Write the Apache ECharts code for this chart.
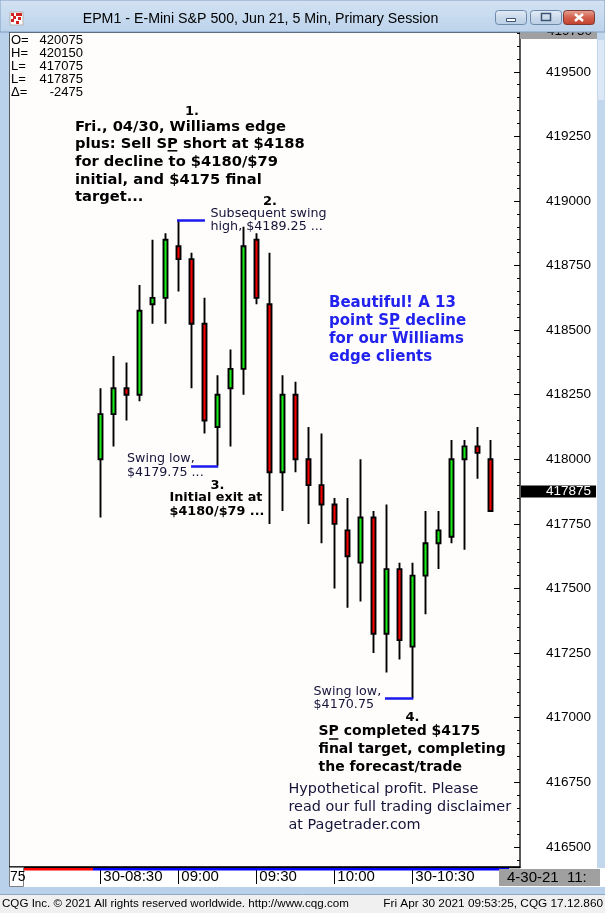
<!DOCTYPE html>
<html><head><meta charset="utf-8">
<script src="https://cdn.jsdelivr.net/npm/echarts@6/dist/echarts.min.js"></script>
<style>html,body{margin:0;padding:0;background:#fff}#c{width:605px;height:913px}</style>
</head><body><div id="c"></div>
<script>
// ---- data ----
const times = ['08:30','08:35','08:40','08:45','08:50','08:55','09:00','09:05','09:10','09:15','09:20','09:25',
  '09:30','09:35','09:40','09:45','09:50','09:55','10:00','10:05','10:10','10:15','10:20','10:25',
  '10:30','10:35','10:40','10:45','10:50','10:55','11:00'];
const opens  = [418000,418175,418275,418250,418600,418625,418825,418775,418525,418125,418275,418350,
  418850,418600,417950,418250,418000,417900,417825,417725,417600,417775,417325,417575,
  417275,417550,417675,417700,418000,418050,418000];
const highs  = [418275,418400,418375,418675,418850,418875,418925,418800,418625,418325,418425,418900,
  418875,418800,418325,418300,418125,418100,417850,417850,418000,417800,417825,417600,
  417600,417800,417800,418075,418075,418125,418075];
const lows   = [417775,418050,418150,418225,418525,418525,418650,418275,418100,417975,418050,418250,
  418600,417750,417800,417950,417750,417675,417500,417425,417450,417250,417175,417225,
  417075,417400,417575,417675,417650,417925,417800];
const closes = [418175,418275,418250,418575,418625,418850,418775,418525,418150,418250,418350,418825,
  418625,417950,418250,418000,417900,417825,417750,417625,417775,417325,417575,417300,
  417550,417675,417725,418000,418050,418025,417800];
const yTickLabels = [416500,416750,417000,417250,417500,417750,418000,418250,418500,418750,419000,419250,419500];
const xTickTimes  = ['08:30','09:00','09:30','10:00','10:30'];
const xTickLabels = ['30-08:30','09:00','09:30','10:00','30-10:30'];
const lastPrice = 417875;
const swingHigh = 418925, swingLow1 = 417975, swingLow2 = 417075;
const headerLabels = ['O=','H=','L=','L=','\u0394='];
const headerValues = ['420075','420150','417075','417875','-2475'];

// ---- layout ----
const X0 = 100.3, STEP = 13;
const GL = 9, GR = 520, GT = 32, GB = 867;
const xMin = (GL - X0) / STEP, xMax = (GR - X0) / STEP;
const yMin = 416422, yMax = 419654;

const xTickPos = xTickTimes.map(t => times.indexOf(t));
const minorTicks = [];
for (let v = 416450; v <= 419650; v += 50) minorTicks.push(v);
const candleData = times.map((t, i) => [i, opens[i], closes[i], lows[i], highs[i]]);

const AF = "'DejaVu Sans', Verdana, sans-serif";
const LF = '"Liberation Sans", Arial, sans-serif';
const fontMain = 'bold 14.7px ' + AF;
const fontDone = 'bold 14px ' + AF;
const fontBlue = 'bold 15px ' + AF;
const fontNorm = '12.7px ' + AF;
const fontHyp = '14.4px ' + AF;

const cv = document.createElement('canvas').getContext('2d');
function tw(font, s) { cv.font = font; return cv.measureText(s).width; }

const gfx = [];
function txt(x, y, text, font, fill, extra, z) {
  gfx.push({type:'text', x, y, z: z == null ? 60 : z, style: Object.assign({text, font, fill, verticalAlign:'top', align:'left'}, extra || {})});
}
function rect(x, y, w, h, fill, z, stroke) {
  gfx.push({type:'rect', z: z == null ? 50 : z, shape:{x, y, width:w, height:h}, style:{fill, stroke: stroke || null, lineWidth: 1}});
}
function line(x1, y1, x2, y2, stroke, w, z) {
  gfx.push({type:'line', z: z == null ? 60 : z, shape:{x1, y1, x2, y2}, style:{stroke, lineWidth: w}});
}
function underline(x, y, font, prefix, word, color) {
  const a = x + tw(font, prefix), b = a + tw(font, word);
  line(a + 0.5, y, b - 0.5, y, color, 1.5, 61);
}

// window frame
rect(0, 32, 9, 862, '#b9d1ea', 40);
rect(597, 32, 8, 836, '#c3d7ec', 40);
rect(598, 40, 6, 60, '#dce8f5', 41);
rect(0, 887, 605, 7, '#b9d1ea', 40);
line(0, 894.5, 605, 894.5, '#8ea8c6', 1, 41);
rect(0, 895, 605, 18, '#f0f0f0', 40);
// top right gray box with clipped label
rect(520, 32, 77, 7, '#a0a0a0', 45);
txt(592, 31, '419750', '13.5px ' + LF, '#000', {align:'right', verticalAlign:'middle'}, 46);
// title bar
gfx.push({type:'rect', z: 70, shape:{x:0, y:0, width:605, height:32},
  style:{fill: new echarts.graphic.LinearGradient(0,0,0,1,[{offset:0,color:'#d3e2f3'},{offset:1,color:'#bcd3eb'}]), stroke:'#7f9dbf', lineWidth:1}});
// icon
rect(10, 12, 13, 13, '#ffffff', 71, '#b0b0b0');
[[11,13],[16,13],[13,16],[18,17],[11,19],[16,21],[19,13]].forEach(p => rect(p[0], p[1], 3, 3, '#d42020', 72));
txt(260.5, 19, 'EPM1 - E-Mini S&P 500, Jun 21, 5 Min, Primary Session', '14.2px ' + LF, '#000', {align:'center', verticalAlign:'middle'}, 72);
// buttons
const btnGrad = () => new echarts.graphic.LinearGradient(0,0,0,1,[{offset:0,color:'#e4edf7'},{offset:0.5,color:'#cbdaeb'},{offset:1,color:'#b8cde4'}]);
gfx.push({type:'rect', z:71, shape:{x:495.5, y:10.5, width:31, height:14, r:3}, style:{fill:btnGrad(), stroke:'#6c88ab', lineWidth:1}});
gfx.push({type:'rect', z:71, shape:{x:530.5, y:10.5, width:31, height:14, r:3}, style:{fill:btnGrad(), stroke:'#6c88ab', lineWidth:1}});
gfx.push({type:'rect', z:71, shape:{x:563.5, y:10.5, width:31, height:14, r:3},
  style:{fill:new echarts.graphic.LinearGradient(0,0,0,1,[{offset:0,color:'#e7a597'},{offset:0.5,color:'#d3604c'},{offset:1,color:'#c0402c'}]), stroke:'#7a3a32', lineWidth:1}});
gfx.push({type:'rect', z:72, shape:{x:506.5, y:18.5, width:9, height:3}, style:{fill:'#fff', stroke:'#3c5473', lineWidth:1}});
gfx.push({type:'rect', z:72, shape:{x:541.5, y:13.5, width:9, height:7}, style:{fill:'none', stroke:'#3c5473', lineWidth:1.5}});
line(575, 14, 583, 21, '#ffffff', 2.5, 72);
line(583, 14, 575, 21, '#ffffff', 2.5, 72);

// bottom row
rect(23, 868, 70, 2.5, '#ff0000', 55);
rect(93, 868, 416, 2.5, '#0000ff', 55);
rect(9.5, 867.5, 14, 19, '#ffffff', 55, '#808080');
txt(10, 877, '75', '14px ' + LF, '#000', {verticalAlign:'middle'});
rect(499, 869, 101, 17, '#a0a0a0', 55);
txt(507, 877.5, '4-30-21  11:', '15px ' + LF, '#000', {verticalAlign:'middle'});
// footer
txt(2, 904, 'CQG Inc. \u00a9 2021 All rights reserved worldwide. http://www.cqg.com', '11.6px ' + LF, '#000', {verticalAlign:'middle'});
txt(603, 904, 'Fri Apr 30 2021 09:53:25, CQG 17.12.860', '11.8px ' + LF, '#000', {align:'right', verticalAlign:'middle'});

// header stats
headerLabels.forEach((l, i) => {
  const y = 40.5 + i * 12.9;
  txt(11, y, l, '13px ' + LF, '#000', {verticalAlign:'middle'});
  txt(83, y, headerValues[i], '13px ' + LF, '#000', {verticalAlign:'middle', align:'right'});
});

// annotations
const ink = '#000000', navy = '#141438', blue = '#2222ee';
txt(192, 112, '1.', 'bold 13px ' + AF, ink, {align:'center', verticalAlign:'middle'});
const mainLines = ['Fri., 04/30, Williams edge','plus: Sell SP short at $4188','for decline to $4180/$79','initial, and $4175 final','target...'];
txt(75, 118.2, mainLines.join('\n'), fontMain, ink, {lineHeight: 17.65});
underline(75, 150.8, fontMain, 'plus: Sell S', 'P', ink);
txt(270, 201.3, '2.', 'bold 13px ' + AF, ink, {align:'center', verticalAlign:'middle'});
txt(210.5, 206.6, 'Subsequent swing\nhigh, $4189.25 ...', fontNorm, navy, {lineHeight: 13.4});
txt(329, 294.4, 'Beautiful! A 13\npoint SP decline\nfor our Williams\nedge clients', fontBlue, blue, {lineHeight: 17.8});
underline(329, 328.3, fontBlue, 'point S', 'P', blue);
txt(127, 451.3, 'Swing low,\n$4179.75 ...', fontNorm, navy, {lineHeight: 14.3});
txt(217.5, 486, '3.', 'bold 13px ' + AF, ink, {align:'center', verticalAlign:'middle'});
txt(169.5, 490.1, 'Initial exit at\n$4180/$79 ...', 'bold 12.8px ' + AF, ink, {lineHeight: 14.4});
txt(313.5, 685, 'Swing low,\n$4170.75', fontNorm, navy, {lineHeight: 13.3});
txt(412.5, 717.5, '4.', 'bold 13px ' + AF, ink, {align:'center', verticalAlign:'middle'});
txt(318.5, 722.7, 'SP completed $4175\nfinal target, completing\nthe forecast/trade', fontDone, ink, {lineHeight: 18});
underline(318.5, 739, fontDone, 'S', 'P', ink);
txt(288.5, 780.2, 'Hypothetical profit. Please\nread our full trading disclaimer\nat Pagetrader.com', fontHyp, navy, {lineHeight: 18.2});

const chart = echarts.init(document.getElementById('c'), null, {renderer:'canvas'});
chart.setOption({
  animation: false,
  backgroundColor: '#ffffff',
  grid: {left: GL, right: 605 - GR, top: GT, bottom: 913 - GB, show: true, borderColor:'#000', borderWidth: 1.3, backgroundColor:'#fffcfc', containLabel:false},
  xAxis: {type:'value', min: xMin, max: xMax, splitLine:{show:false},
    axisLine:{show:true, onZero:false, lineStyle:{color:'#000', width:1.3}},
    axisTick:{show:true, customValues: xTickPos, length:17, lineStyle:{color:'#000', width:1}},
    axisLabel:{show:true, customValues: xTickPos, formatter: v => xTickLabels[xTickPos.indexOf(v)],
      align:'left', verticalAlign:'middle', margin:10, padding:[0,0,0,3],
      fontFamily: LF, fontSize:15, color:'#000'}},
  yAxis: [
    {type:'value', position:'right', min:yMin, max:yMax, splitLine:{show:false}, axisLine:{show:false, onZero:false},
      axisTick:{show:true, inside:true, length:6, customValues: yTickLabels, lineStyle:{color:'#000'}},
      axisLabel:{show:true, customValues: yTickLabels, formatter: v => String(v), margin:26, fontFamily: LF, fontSize:13.5, color:'#000'}},
    {type:'value', position:'right', min:yMin, max:yMax, splitLine:{show:false}, axisLine:{show:false, onZero:false},
      axisTick:{show:true, inside:true, length:3, customValues: minorTicks, lineStyle:{color:'#000'}},
      axisLabel:{show:false}}
  ],
  series: [{
    type:'candlestick', xAxisIndex:0, yAxisIndex:0, data: candleData,
    encode:{x:0, y:[1,2,3,4]},
    barWidth: 4.8,
    itemStyle:{color:'#18ec18', color0:'#f40000', borderColor:'#000', borderColor0:'#000', borderWidth:1.9},
    markLine:{silent:true, symbol:['none','none'], animation:false,
      data:[
        [{coord:[5.9, swingHigh], lineStyle:{color:'#1a1aee', width:2.5, type:'solid'}, label:{show:false}}, {coord:[8.05, swingHigh]}],
        [{coord:[6.98, swingLow1], lineStyle:{color:'#1a1aee', width:2.5, type:'solid'}, label:{show:false}}, {coord:[9.07, swingLow1]}],
        [{coord:[21.9, swingLow2], lineStyle:{color:'#1a1aee', width:2.5, type:'solid'}, label:{show:false}}, {coord:[24.08, swingLow2]}],
        {yAxis:lastPrice, lineStyle:{color:'rgba(0,0,0,0)', width:0}, label:{show:true, position:'end', distance:1,
          formatter: String(lastPrice), backgroundColor:'#000', color:'#fff',
          fontFamily: LF, fontSize:13.5, padding:[0,5,0,25], lineHeight:12}}
      ]}
  }],
  graphic: {elements: gfx}
});
</script></body></html>
